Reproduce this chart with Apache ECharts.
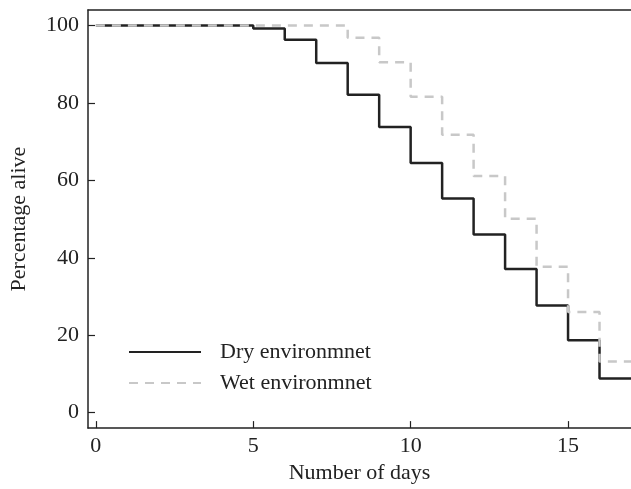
<!DOCTYPE html>
<html><head><meta charset="utf-8">
<script src="https://cdn.jsdelivr.net/npm/echarts@6/dist/echarts.min.js"></script>
<style>html,body{margin:0;padding:0;background:#fff}#c{width:631px;height:489px}</style>
</head><body><div id="c"></div>
<script>
var dryDays = [0, 5, 6, 7, 8, 9, 10, 11, 12, 13, 14, 15, 16, 17];
var dryAlive = [100, 99.2, 96.3, 90.3, 82.1, 73.8, 64.5, 55.3, 46.0, 37.1, 27.7, 18.7, 8.8, 8.8];
var wetDays = [0, 8, 9, 10, 11, 12, 13, 14, 15, 16, 17];
var wetAlive = [100, 96.8, 90.5, 81.6, 71.8, 61.1, 50.1, 37.7, 26.0, 13.2, 13.2];
var xTicks = [0, 5, 10, 15];
var yTicks = [0, 20, 40, 60, 80, 100];
var seriesNames = ['Dry environmnet', 'Wet environmnet'];

function pairs(xs, ys){ return xs.map(function(x,i){ return [x, ys[i]]; }); }
var font = 'Liberation Serif';
var ink = '#222';
var fs = 22;
var chart = echarts.init(document.getElementById('c'), null, {renderer:'canvas'});
chart.setOption({
  animation:false,
  grid:{left:87, top:10, right:0, bottom:58, containLabel:false},
  legend:{
    left:128, top:341, padding:0, orient:'vertical', itemWidth:72, itemHeight:14, itemGap:9,
    itemStyle:{opacity:0},
    textStyle:{fontFamily:font, fontSize:fs, color:ink, lineHeight:22, padding:[0,0,0,14]},
    data:seriesNames
  },
  xAxis:[{
    type:'value', min:-0.25, max:17, position:'bottom',
    name:'Number of days', nameLocation:'middle', nameGap:32,
    nameTextStyle:{fontFamily:font, fontSize:fs, color:ink},
    axisLine:{show:true, onZero:false, lineStyle:{color:ink, width:1.5}},
    axisTick:{show:true, inside:true, length:7, customValues:xTicks, lineStyle:{color:ink, width:1.2}},
    axisLabel:{show:true, customValues:xTicks, margin:7, fontFamily:font, fontSize:fs, color:ink},
    splitLine:{show:false}
  },{
    type:'value', min:-0.25, max:17, position:'top',
    axisLine:{show:true, onZero:false, lineStyle:{color:ink, width:1.5}},
    axisTick:{show:false}, axisLabel:{show:false}, splitLine:{show:false}
  }],
  yAxis:{
    type:'value', min:-4, max:104,
    name:'Percentage alive', nameLocation:'middle', nameGap:58, nameRotate:90,
    nameTextStyle:{fontFamily:font, fontSize:fs, color:ink},
    axisLine:{show:true, onZero:false, lineStyle:{color:ink, width:1.5}},
    axisTick:{show:true, inside:true, length:7, customValues:yTicks, lineStyle:{color:ink, width:1.2}},
    axisLabel:{show:true, customValues:yTicks, margin:9, fontFamily:font, fontSize:fs, color:ink},
    splitLine:{show:false}
  },
  series:[{
    name:seriesNames[0], type:'line', step:'end', showSymbol:false, symbol:'none',
    data:pairs(dryDays, dryAlive),
    lineStyle:{color:'#222', width:2.5, type:'solid'}, itemStyle:{color:'#222'}, z:2
  },{
    name:seriesNames[1], type:'line', step:'end', showSymbol:false, symbol:'none',
    data:pairs(wetDays, wetAlive),
    lineStyle:{color:'#c8c8c8', width:2.5, type:[9,7]}, itemStyle:{color:'#c8c8c8'}, z:3
  }]
});
</script></body></html>
